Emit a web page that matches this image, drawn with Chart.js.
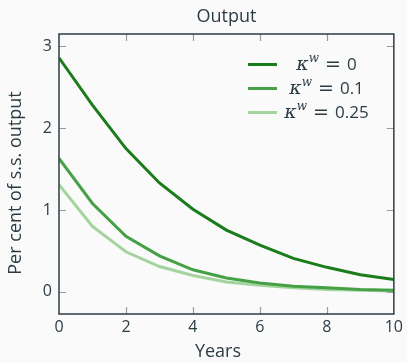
<!DOCTYPE html>
<html>
<head>
<meta charset="utf-8">
<script src="https://cdn.jsdelivr.net/npm/chart.js@4/dist/chart.umd.min.js"></script>
<style>
  html, body { margin: 0; padding: 0; background: #fafafa; }
  #wrap { width: 407px; height: 363px; }
</style>
</head>
<body>
<div id="wrap"><canvas id="c" width="407" height="363"></canvas></div>
<script>
// Impulse response of output, in per cent of steady-state output
const years = [0, 1, 2, 3, 4, 5, 6, 7, 8, 9, 10];
const kappa0 = [2.86, 2.28, 1.75, 1.33, 1.01, 0.755, 0.57, 0.41, 0.30, 0.21, 0.15];
const kappa01 = [1.63, 1.08, 0.68, 0.44, 0.27, 0.17, 0.11, 0.07, 0.05, 0.03, 0.02];
const kappa025 = [1.31, 0.80, 0.49, 0.31, 0.20, 0.12, 0.08, 0.05, 0.03, 0.02, 0.01];
const seriesLabels = ['0', '0.1', '0.25'];
const xTicks = [0, 2, 4, 6, 8, 10];
const yTicks = [0, 1, 2, 3];

const FONT = "'Open Sans', 'Noto Sans', sans-serif";
const TEXT = '#2b3d44';
const colors = ['#1b7c1b', '#46a046', '#a3d49d'];

const pts = ys => years.map((x, i) => ({ x, y: ys[i] }));

// Frame, inward tick marks, titles and the legend drawn on top of the plot
const decor = {
  id: 'decor',
  afterDatasetsDraw(chart) {
    const { ctx, chartArea: a, scales } = chart;
    ctx.save();
    // inward tick marks on all four sides
    ctx.strokeStyle = '#9a9a9a';
    ctx.lineWidth = 1.2;
    const L = 7;
    xTicks.filter(v => v > 0 && v < 10).forEach(v => {
      const px = Math.round(scales.x.getPixelForValue(v)) + 0.5;
      ctx.beginPath();
      ctx.moveTo(px, a.bottom); ctx.lineTo(px, a.bottom - L);
      ctx.moveTo(px, a.top); ctx.lineTo(px, a.top + L);
      ctx.stroke();
    });
    yTicks.forEach(v => {
      const py = Math.round(scales.y.getPixelForValue(v)) + 0.5;
      ctx.beginPath();
      ctx.moveTo(a.left, py); ctx.lineTo(a.left + L, py);
      ctx.moveTo(a.right, py); ctx.lineTo(a.right - L, py);
      ctx.stroke();
    });
    // frame
    ctx.strokeStyle = TEXT;
    ctx.lineWidth = 1.5;
    ctx.strokeRect(a.left, a.top, a.right - a.left, a.bottom - a.top);

    // titles
    ctx.fillStyle = TEXT;
    ctx.textAlign = 'center';
    ctx.textBaseline = 'middle';
    ctx.font = `18px ${FONT}`;
    ctx.fillText('Output', (a.left + a.right) / 2, 17);
    ctx.fillText('Years', 218, 352);
    ctx.save();
    ctx.translate(16, 183);
    ctx.rotate(-Math.PI / 2);
    ctx.fillText('Per cent of s.s. output', 0, 0);
    ctx.restore();

    // legend
    const rows = [64.5, 88.5, 112.5];
    chart.data.datasets.forEach((ds, i) => {
      const y = rows[i];
      ctx.strokeStyle = ds.borderColor;
      ctx.lineWidth = 3;
      ctx.beginPath();
      ctx.moveTo(248, y); ctx.lineTo(277, y);
      ctx.stroke();
      // text: κ^w = value, centred on x = 326
      const parts = [
        { t: 'κ', f: `italic 19px 'DejaVu Serif', serif`, dy: 1 },
        { t: 'w', f: `italic 12px 'DejaVu Serif', serif`, dy: -6 },
        { t: ' = ', f: `19px 'DejaVu Sans', sans-serif`, dy: 1 },
        { t: seriesLabels[i], f: `17px ${FONT}`, dy: 1 }
      ];
      let w = 0;
      parts.forEach(p => { ctx.font = p.f; p.w = ctx.measureText(p.t).width; w += p.w; });
      let x = 326.5 - w / 2;
      ctx.fillStyle = TEXT;
      ctx.textAlign = 'left';
      ctx.textBaseline = 'middle';
      parts.forEach(p => { ctx.font = p.f; ctx.fillText(p.t, x, y + p.dy); x += p.w; });
    });
    ctx.restore();
  }
};

new Chart(document.getElementById('c'), {
  type: 'line',
  data: {
    datasets: [
      { label: 'κʷ = ' + seriesLabels[0], data: pts(kappa0), borderColor: colors[0] },
      { label: 'κʷ = ' + seriesLabels[1], data: pts(kappa01), borderColor: colors[1] },
      { label: 'κʷ = ' + seriesLabels[2], data: pts(kappa025), borderColor: colors[2] }
    ]
  },
  options: {
    responsive: false,
    animation: false,
    devicePixelRatio: 1,
    layout: { padding: { top: 34, right: 11, left: 0, bottom: 0 } },
    elements: {
      line: { borderWidth: 3, tension: 0, fill: false },
      point: { radius: 0 }
    },
    plugins: { legend: { display: false }, title: { display: false }, tooltip: { enabled: false } },
    scales: {
      x: {
        type: 'linear', min: 0, max: 10,
        afterBuildTicks: s => { s.ticks = xTicks.map(v => ({ value: v })); },
        afterFit: s => { s.height = 49; },
        grid: { display: false, drawTicks: false },
        border: { display: false },
        ticks: { color: TEXT, font: { family: FONT, size: 16 }, padding: 4, maxRotation: 0 }
      },
      y: {
        min: -0.27, max: 3.15,
        afterBuildTicks: s => { s.ticks = yTicks.map(v => ({ value: v })); },
        afterFit: s => { s.width = 59; },
        grid: { display: false, drawTicks: false },
        border: { display: false },
        ticks: { color: TEXT, font: { family: FONT, size: 16 }, padding: 7 }
      }
    }
  },
  plugins: [decor]
});
</script>
</body>
</html>
